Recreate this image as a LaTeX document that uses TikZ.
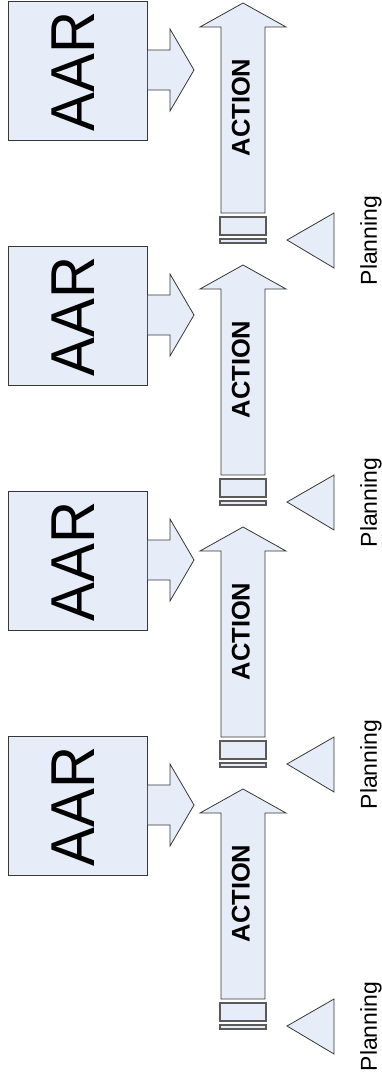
\documentclass[tikz,border=0pt]{standalone}
\usepackage{fontspec}
\setmainfont{Liberation Sans}
\definecolor{boxfill}{RGB}{231,237,248}
\definecolor{edge}{RGB}{55,55,55}
\definecolor{bandedge}{RGB}{90,90,90}
\begin{document}
\begin{tikzpicture}[x=1pt,y=-1pt,
  shapeline/.style={draw=edge,fill=boxfill,line width=0.8pt,line join=miter},
  bandline/.style={draw=bandedge,fill=boxfill,line width=1.1pt},
  aarbox/.style={shapeline,minimum width=139pt,minimum height=139pt,inner sep=0pt,anchor=north west},
  aartext/.style={rotate=90,anchor=north,inner sep=0pt,font=\fontsize{62}{62}\selectfont},
  acttext/.style={rotate=90,anchor=north,inner sep=0pt,font=\bfseries\fontsize{25.5}{25.5}\selectfont},
  plantext/.style={rotate=90,anchor=north,inner sep=0pt,font=\fontsize{23}{23}\selectfont},
  ]
\useasboundingbox (0,0) rectangle (382,1078);
\foreach \k in {0,1,2,3}{
  \pgfmathsetmacro{\b}{245*\k}
  \pgfmathsetmacro{\a}{262*\k}
  % review box with its block arrow
  \node[aarbox] (aar\k) at (8,1+\b) {};
  \node[aartext] (aarlabel\k) at (52,71.5+\b) {\scalebox{0.94}[1]{AAR}};
  \draw[shapeline] (aar\k.east |- 0,50+\b) -- (170,50+\b) -- (170,29+\b)
    -- (194,70+\b) -- (170,111+\b) -- (170,90+\b) -- (aar\k.east |- 0,90+\b);
  % upward action arrow
  \draw[shapeline] (221,213+\a) -- (221,27+\a) -- (200,27+\a) -- (243,3+\a)
    -- (286,27+\a) -- (265,27+\a) -- (265,213+\a) -- cycle;
  \node[acttext] (act\k) at (231.5,107.5+\a) {ACTION};
  % bands under the arrow
  \draw[bandline] (220,217+\a) rectangle (266,235+\a);
  \draw[bandline] (220,239+\a) rectangle (266,243+\a);
  % planning marker
  \draw[shapeline] (287,240+\a) -- (334,213+\a) -- (334,268+\a) -- cycle;
  \node[plantext] (plan\k) at (360,240.5+\a) {Planning};
}
\end{tikzpicture}
\end{document}
